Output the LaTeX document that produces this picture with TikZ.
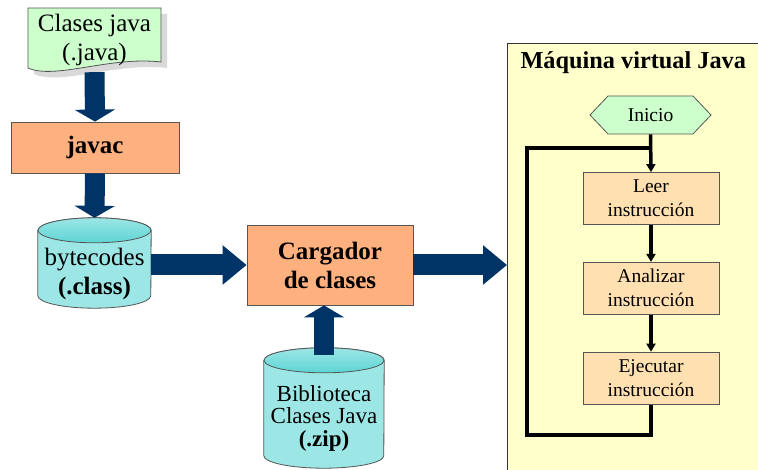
\documentclass[tikz,border=0pt]{standalone}
\usepackage{fontspec}
\setmainfont{Liberation Serif}
\usetikzlibrary{calc,positioning,arrows.meta,shapes.symbols}

\definecolor{azulflecha}{HTML}{003366}
\definecolor{verdeclaro}{HTML}{CCFFCC}
\definecolor{salmon}{HTML}{FFB07F}
\definecolor{cianclaro}{HTML}{9CE6E6}
\definecolor{cianoscuro}{HTML}{5ED4D4}
\definecolor{amarillo}{HTML}{FFFFCC}
\definecolor{melocoton}{HTML}{FFE0B0}
\definecolor{gris}{HTML}{555555}

\newcommand{\letragrande}{\fontsize{25}{29}\selectfont}
\newcommand{\letrapaso}{\fontsize{19.5}{24}\selectfont}

% cilindro dibujado sobre un nodo vacio: #1 nombre, #2 radio horizontal
\newcommand{\cilindro}[2]{%
\path[fill=cianclaro, draw=gris, line width=0.8pt]
  ($(#1.north west)+(0,12.5)$) -- ($(#1.south west)+(0,-12.5)$)
  arc[start angle=180, end angle=0, x radius=#2, y radius=12.5]
  -- ($(#1.north east)+(0,12.5)$)
  arc[start angle=0, end angle=-180, x radius=#2, y radius=12.5] -- cycle;
\path[top color=cianclaro, bottom color=cianoscuro, draw=gris, line width=0.8pt]
  ($(#1.north)+(0,12.5)$) ellipse[x radius=#2, y radius=12.5];
}

\tikzset{
  caja/.style={draw=gris, fill=salmon, line width=0.8pt, align=center,
    font=\letragrande\bfseries},
  cil/.style={inner sep=0pt},
  texto/.style={align=center, font=\letragrande},
  panel/.style={draw=black!80, fill=amarillo, line width=1pt},
  paso/.style={draw=gris, fill=melocoton, line width=0.8pt, align=center,
    minimum width=136, minimum height=52, font=\letrapaso},
  inicio/.style={draw=gris, fill=verdeclaro, line width=0.8pt, signal,
    signal to=west and east, signal pointer angle=93,
    minimum width=121, minimum height=38, inner sep=1pt, font=\letrapaso},
  flechav/.style={azulflecha, line width=20pt, -{Triangle[length=12pt,width=40pt]}},
  flechah/.style={azulflecha, line width=21pt, -{Triangle[length=24pt,width=38pt]}},
  flujo/.style={black, line width=3.5pt},
  puntaflujo/.style={-{Triangle[length=8pt,width=9pt]}}
}

\begin{document}
\begin{tikzpicture}[x=1pt,y=-1pt]
\useasboundingbox (0,0) rectangle (758,470);

% maquina virtual
\node[panel, anchor=north west, minimum width=280, minimum height=450] (jvm) at (507,43) {};
\node[anchor=west, font=\fontsize{24.3}{29}\selectfont\bfseries] (titulo) at (517,63) {Máquina virtual Java};

% documento fuente con sombra
\fill[black!15] (34,14) -- (167,14) -- (167,68) .. controls (116,62) and (61,86) .. (34,74) -- cycle;
\draw[fill=verdeclaro, draw=gris, line width=0.8pt]
  (28,8) -- (161,8) -- (161,62) .. controls (110,56) and (55,80) .. (28,68) -- cycle;
\node[texto, minimum height=64] (fuente) at (94.5,40) {Clases java\\(.java)};

\node[caja, minimum width=168, minimum height=51] (javac) at (95,147.5) {javac};
\node[caja, minimum width=166, minimum height=80] (cargador) at (330,265) {Cargador\\de clases};

\node[cil, minimum width=113, minimum height=90] (bytecodes) at (94.5,263) {};
\node[cil, minimum width=120, minimum height=120] (biblioteca) at (324,408) {};
\cilindro{bytecodes}{56.5}
\cilindro{biblioteca}{60}
\node[texto] (bytecodes-txt) at ($(bytecodes.center)+(0,11)$) {bytecodes\\\textbf{(.class)}};
\node[texto, font=\fontsize{23}{22.5}\selectfont] (biblioteca-txt) at ($(biblioteca.center)+(0,10)$)
  {Biblioteca\\Clases Java\\\textbf{(.zip)}};

% flechas gruesas
\draw[flechav] (fuente.south) -- (javac.north);
\draw[flechav] (javac.south) -- (bytecodes.north);
\draw[flechah] (bytecodes.east |- cargador.west) -- (cargador.west);
\draw[flechav] ([yshift=-7pt]biblioteca.north) -- (biblioteca.north |- cargador.south);
\draw[flechah] (cargador.east) -- (cargador.east -| jvm.west);

% ciclo de la maquina
\node[inicio] (inicio) at (650.5,115) {Inicio};
\node[paso] (leer) at (651,198.5) {Leer\\instrucción};
\node[paso, below=37pt of leer] (analizar) {Analizar\\instrucción};
\node[paso, below=37pt of analizar] (ejecutar) {Ejecutar\\instrucción};
\coordinate (union) at (651,148);
\coordinate (esquina) at (527,435);

\draw[flujo, puntaflujo] (inicio.south) -- (leer.north);
\draw[flujo, puntaflujo] (leer) -- (analizar);
\draw[flujo, puntaflujo] (analizar) -- (ejecutar);
\draw[flujo] (ejecutar.south) |- (esquina) |- (union);
\end{tikzpicture}
\end{document}
